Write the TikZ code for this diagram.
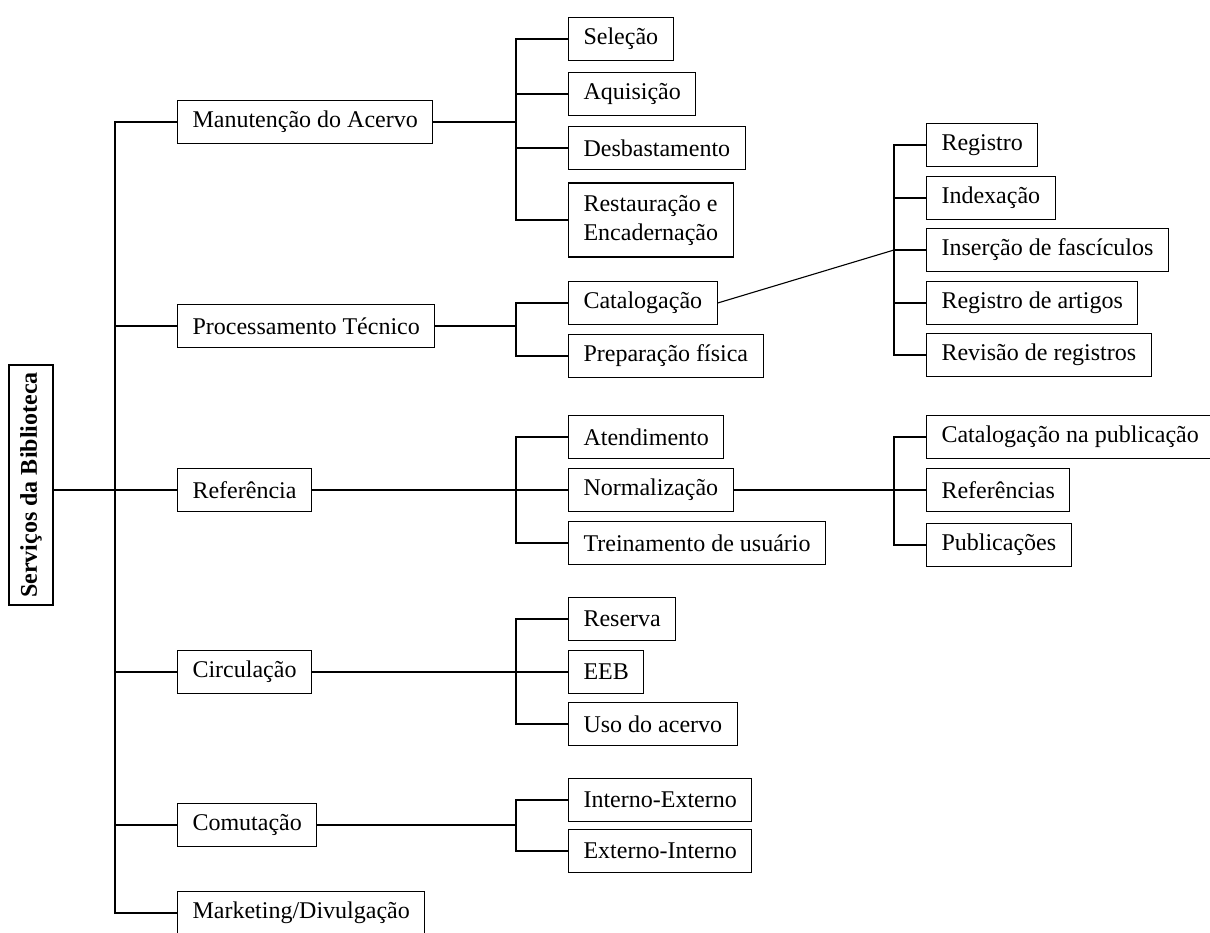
\documentclass[tikz,border=0pt]{standalone}
\usepackage{fontspec}
\setmainfont{Liberation Serif}
\begin{document}
\begin{tikzpicture}[x=1pt, y=-1pt, line width=1.1pt,
	main/.style = {draw, anchor=west, minimum height=43pt, inner xsep=15pt, inner ysep=4pt, align=left, font=\fontsize{24}{29}\selectfont},
	rootbox/.style = {draw, rotate=90, minimum width=240pt, minimum height=44pt, font=\bfseries\fontsize{24}{29}\selectfont}]

		\useasboundingbox (0,0) rectangle (1210,932);

		\node[rootbox] (serv) at (31,485) {Serviços da Biblioteca};

		\node[main] (manut) at (177,122) {Manutenção do Acervo};
		\node[main] (proc) at (177,326) {Processamento Técnico};
		\node[main] (refer) at (177,490) {Referência};
		\node[main] (circ) at (177,672) {Circulação};
		\node[main] (comut) at (177,825) {Comutação};
		\node[main] (mkt) at (177,913) {Marketing/Divulgação};

		\node[main] (sel) at (568,39) {Seleção};
		\node[main] (aqu) at (568,94) {Aquisição};
		\node[main] (desb) at (568,148) {Desbastamento};
		\node[main, minimum height=74pt] (rest) at (568,220) {Restauração e\\Encadernação};
		\node[main] (catal) at (568,303) {Catalogação};
		\node[main] (prep) at (568,356) {Preparação física};
		\node[main] (atend) at (568,437) {Atendimento};
		\node[main] (norm) at (568,490) {Normalização};
		\node[main] (trein) at (568,543) {Treinamento de usuário};
		\node[main] (res) at (568,619) {Reserva};
		\node[main] (eeb) at (568,672) {EEB};
		\node[main] (uso) at (568,724) {Uso do acervo};
		\node[main] (intext) at (568,800) {Interno-Externo};
		\node[main] (extint) at (568,851) {Externo-Interno};

		\node[main] (reg) at (926,145) {Registro};
		\node[main] (idx) at (926,198) {Indexação};
		\node[main] (ins) at (926,250) {Inserção de fascículos};
		\node[main] (art) at (926,303) {Registro de artigos};
		\node[main] (rev) at (926,355) {Revisão de registros};
		\node[main] (cip) at (926,437) {Catalogação na publicação};
		\node[main] (refs) at (926,490) {Referências};
		\node[main] (pub) at (926,545) {Publicações};

		% tronco
		\coordinate (tk) at (115,122);
		\draw (serv.south |- refer.west) -- (refer.west);
		\draw (manut.west) -- (tk) |- (mkt.west);
		\draw (proc.west) -- (proc.west -| tk);
		\draw (circ.west) -- (circ.west -| tk);
		\draw (comut.west) -- (comut.west -| tk);

		% segundo nivel
		\coordinate (b1) at (516,122);
		\draw (manut.east) -- (b1);
		\draw (sel.west) -| (b1) |- (rest.west);
		\draw (aqu.west) -- (aqu.west -| b1);
		\draw (desb.west) -- (desb.west -| b1);

		\coordinate (b2) at (516,326);
		\draw (proc.east) -- (b2);
		\draw (catal.west) -| (b2) |- (prep.west);

		\coordinate (b3) at (516,490);
		\draw (refer.east) -- (norm.west);
		\draw (atend.west) -| (b3) |- (trein.west);

		\coordinate (b4) at (516,672);
		\draw (circ.east) -- (eeb.west);
		\draw (res.west) -| (b4) |- (uso.west);

		\coordinate (b5) at (516,825);
		\draw (comut.east) -- (b5);
		\draw (intext.west) -| (b5) |- (extint.west);

		% terceiro nivel
		\coordinate (b6) at (894,250);
		\draw (catal.east) -- (b6);
		\draw (reg.west) -| (b6) |- (rev.west);
		\draw (idx.west) -- (idx.west -| b6);
		\draw (ins.west) -- (b6);
		\draw (art.west) -- (art.west -| b6);

		\coordinate (b7) at (894,490);
		\draw (norm.east) -- (refs.west);
		\draw (cip.west) -| (b7) |- (pub.west);
	\end{tikzpicture}
\end{document}
